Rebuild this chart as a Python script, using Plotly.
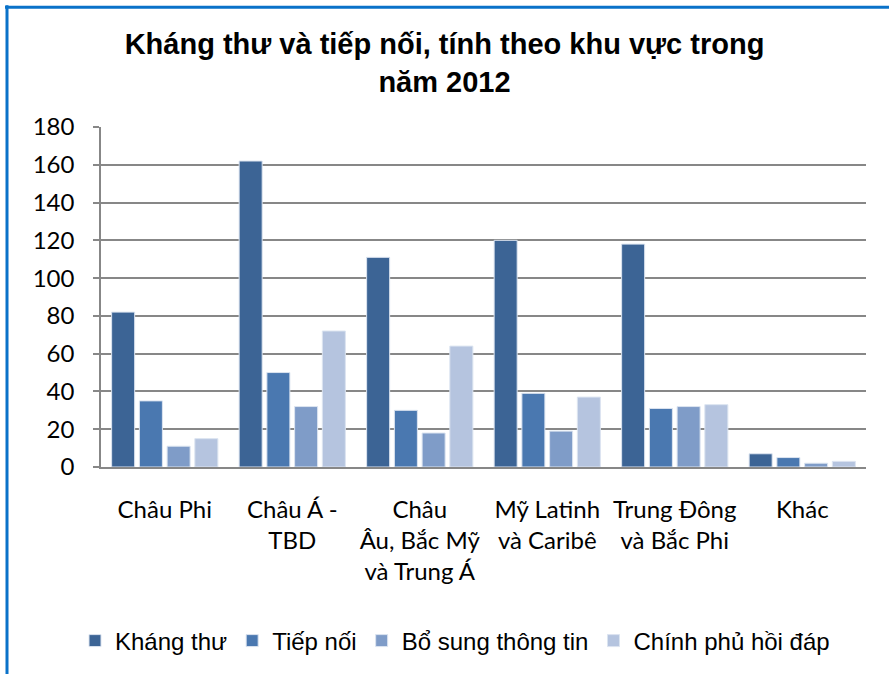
import plotly.graph_objects as go

categories = ["Châu Phi", "Châu Á -<br>TBD", "Châu<br>Âu, Bắc Mỹ<br>và Trung Á",
              "Mỹ Latinh<br>và Caribê", "Trung Đông<br>và Bắc Phi", "Khác"]
khang_thu = [82, 162, 111, 120, 118, 7]
tiep_noi = [35, 50, 30, 39, 31, 5]
bo_sung = [11, 32, 18, 19, 32, 2]
chinh_phu = [15, 72, 64, 37, 33, 3]

series = [
    ("Kháng thư", khang_thu, "#3C6495"),
    ("Tiếp nối", tiep_noi, "#4A78B0"),
    ("Bổ sung thông tin", bo_sung, "#7F9CC8"),
    ("Chính phủ hồi đáp", chinh_phu, "#B5C4DF"),
]

fig = go.Figure()
for name, vals, col in series:
    fig.add_trace(go.Bar(x=categories, y=vals, name=name,
                         marker=dict(color=col, line=dict(color="#DCE4F0", width=1))))

L, R, T, B = 101, 23, 127, 206
W, H = 889, 674
pw, ph = W - L - R, H - T - B

def px(x):
    return (x - L) / pw

def py(y):
    return (H - B - y) / ph

fig.update_layout(
    width=W, height=H,
    margin=dict(l=L, r=R, t=T, b=B),
    paper_bgcolor="white", plot_bgcolor="white",
    barmode="group", bargap=0.13, bargroupgap=0.17,
    title=dict(text="Kháng thư và tiếp nối, tính theo khu vực trong<br>năm 2012",
               x=0.5, xanchor="center", y=1 - 54 / H, yanchor="top",
               font=dict(family="Liberation Sans, Arial", size=29, color="black", weight="bold")),
    font=dict(family="Lato, Open Sans, sans-serif", size=23, color="black"),
    legend=dict(orientation="h", x=px(455), xanchor="center", y=py(641), yanchor="middle",
                font=dict(family="Liberation Sans, Arial", size=24, color="black"),
                itemwidth=30, traceorder="normal", tracegroupgap=0),
    showlegend=True,
    shapes=[
        dict(type="line", xref="paper", yref="paper", x0=px(5), x1=px(W + 5), y0=py(7), y1=py(7),
             line=dict(color="#0A72C9", width=3), layer="above"),
        dict(type="line", xref="paper", yref="paper", x0=px(7), x1=px(7), y0=py(5), y1=py(H + 5),
             line=dict(color="#0A72C9", width=3), layer="above"),
    ],
)
fig.update_yaxes(range=[0, 180], dtick=20, showgrid=True, gridcolor="#878787", gridwidth=1.5,
                 showline=True, linecolor="#878787", linewidth=1.5, ticks="outside", ticklen=6,
                 tickcolor="#878787", tickwidth=1.5, ticklabelstandoff=14,
                 tickfont=dict(family="Lato, Open Sans, sans-serif", size=24), zeroline=False)
fig.update_xaxes(showline=True, linecolor="#878787", linewidth=1.5, ticks="",
                 ticklabelstandoff=20, tickangle=0,
                 tickfont=dict(family="Lato, Open Sans, sans-serif", size=24))

fig.write_html("out.html", config={"displayModeBar": False},
               post_script="document.body.style.margin='0';")
